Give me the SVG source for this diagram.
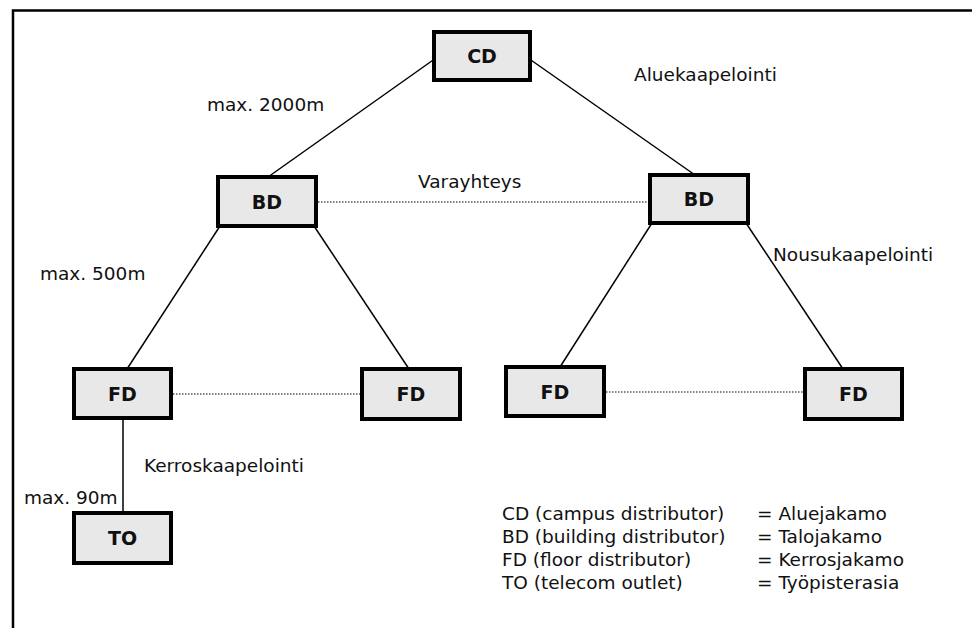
<svg xmlns="http://www.w3.org/2000/svg" width="972" height="628" viewBox="0 0 972 628">
<style>
.box{fill:#e8e8e8;stroke:#000;stroke-width:4}
.lbl{font-family:"DejaVu Sans","Liberation Sans",sans-serif;font-size:19px;font-weight:bold;fill:#111;text-anchor:middle}
.t{font-family:"DejaVu Sans","Liberation Sans",sans-serif;font-size:18.5px;fill:#111}
.ln{stroke:#000;stroke-width:1.5;fill:none}
.dot{stroke:#000;stroke-width:1.2;stroke-dasharray:1.5 1.5;fill:none}
</style>
<rect width="972" height="628" fill="#fff"/>
<path d="M13 628 V10.5 H972" fill="none" stroke="#000" stroke-width="2.5"/>
<g id="connectors">
<line class="ln" x1="436" y1="58" x2="268" y2="177"/>
<line class="ln" x1="528" y1="58" x2="695" y2="175"/>
<line class="ln" x1="220" y1="226" x2="127" y2="369"/>
<line class="ln" x1="314" y1="226" x2="409" y2="369"/>
<line class="ln" x1="652" y1="223" x2="560" y2="367"/>
<line class="ln" x1="746" y1="223" x2="843" y2="369"/>
<line class="ln" x1="123" y1="418" x2="123" y2="513"/>
<line class="dot" x1="318" y1="202" x2="648" y2="202"/>
<line class="dot" x1="173" y1="394" x2="360" y2="394"/>
<line class="dot" x1="606" y1="392" x2="803" y2="392"/>
</g>
<g id="CD"><rect class="box" x="434" y="32" width="96" height="48"/><text class="lbl" x="482" y="63">CD</text></g>
<g id="BD1"><rect class="box" x="218" y="177" width="98" height="49"/><text class="lbl" x="267" y="208.5">BD</text></g>
<g id="BD2"><rect class="box" x="650" y="175" width="98" height="48"/><text class="lbl" x="699" y="206">BD</text></g>
<g id="FD1"><rect class="box" x="74" y="369" width="97" height="49"/><text class="lbl" x="122.5" y="400.5">FD</text></g>
<g id="FD2"><rect class="box" x="362" y="369" width="98" height="50"/><text class="lbl" x="411" y="401">FD</text></g>
<g id="FD3"><rect class="box" x="506" y="367" width="98" height="49"/><text class="lbl" x="555" y="398.5">FD</text></g>
<g id="FD4"><rect class="box" x="805" y="369" width="97" height="50"/><text class="lbl" x="853.5" y="401">FD</text></g>
<g id="TO"><rect class="box" x="74" y="513" width="97" height="50"/><text class="lbl" x="122.5" y="545">TO</text></g>
<g id="labels">
<text class="t" x="634" y="81">Aluekaapelointi</text>
<text class="t" x="207" y="111">max. 2000m</text>
<text class="t" x="418" y="188">Varayhteys</text>
<text class="t" x="773" y="261">Nousukaapelointi</text>
<text class="t" x="40" y="280">max. 500m</text>
<text class="t" x="144" y="472">Kerroskaapelointi</text>
<text class="t" x="24" y="504">max. 90m</text>
</g>
<g id="legend">
<text class="t" x="502" y="520">CD (campus distributor)</text>
<text class="t" x="502" y="543">BD (building distributor)</text>
<text class="t" x="502" y="566">FD (floor distributor)</text>
<text class="t" x="502" y="589">TO (telecom outlet)</text>
<text class="t" x="757" y="520">= Aluejakamo</text>
<text class="t" x="757" y="543">= Talojakamo</text>
<text class="t" x="757" y="566">= Kerrosjakamo</text>
<text class="t" x="757" y="589">= Työpisterasia</text>
</g>
</svg>
